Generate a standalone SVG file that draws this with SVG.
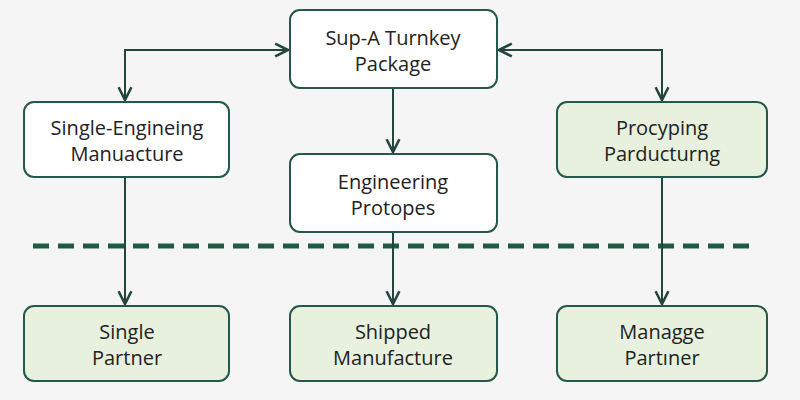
<svg xmlns="http://www.w3.org/2000/svg" width="800" height="400" viewBox="0 0 800 400">
<style>
.n{stroke:#24584a;stroke-width:2}
.w{fill:#ffffff}
.g{fill:#e7f1de}
text{font-family:"Open Sans","Liberation Sans",sans-serif;font-size:20px;fill:#222;text-anchor:middle}
.c{fill:none;stroke:#24453c;stroke-width:2}
</style>
<defs>
<marker id="a" viewBox="0 0 10 10" refX="9" refY="5" markerWidth="8" markerHeight="8" orient="auto-start-reverse"><path d="M1,1 L9,5 L1,9" fill="none" stroke="#24453c" stroke-width="1.6"/></marker>
</defs>
<rect width="800" height="400" fill="#f4f5f4"/>
<line x1="33" y1="246" x2="757" y2="246" stroke="#1f5a45" stroke-width="5" stroke-dasharray="16,9"/>
<g id="connectors">
<path class="c" d="M288,50 H125 V100" marker-start="url(#a)" marker-end="url(#a)"/>
<path class="c" d="M499,50 H662 V100" marker-start="url(#a)" marker-end="url(#a)"/>
<path class="c" d="M393,88 V152" marker-end="url(#a)"/>
<path class="c" d="M125,177 V304" marker-end="url(#a)"/>
<path class="c" d="M393,232 V304" marker-end="url(#a)"/>
<path class="c" d="M662,177 V304" marker-end="url(#a)"/>
</g>
<g id="top"><rect class="n w" x="290" y="10" width="207" height="78" rx="10"/><text x="393" y="45">Sup-A Turnkey</text><text x="393" y="71">Package</text></g>
<g id="left"><rect class="n w" x="24" y="102" width="205" height="75" rx="10"/><text x="127" y="135">Single-Engineing</text><text x="127" y="161">Manuacture</text></g>
<g id="mid"><rect class="n w" x="290" y="154" width="207" height="78" rx="10"/><text x="393" y="189">Engineering</text><text x="393" y="215">Protopes</text></g>
<g id="right"><rect class="n g" x="557" y="102" width="210" height="75" rx="10"/><text x="662" y="135">Procyping</text><text x="662" y="161">Parducturng</text></g>
<g id="b1"><rect class="n g" x="24" y="306" width="205" height="75" rx="10"/><text x="127" y="339">Single</text><text x="127" y="365">Partner</text></g>
<g id="b2"><rect class="n g" x="290" y="306" width="207" height="75" rx="10"/><text x="393" y="339">Shipped</text><text x="393" y="365">Manufacture</text></g>
<g id="b3"><rect class="n g" x="557" y="306" width="210" height="75" rx="10"/><text x="662" y="339">Managge</text><text x="662" y="365">Partıner</text></g>
</svg>
